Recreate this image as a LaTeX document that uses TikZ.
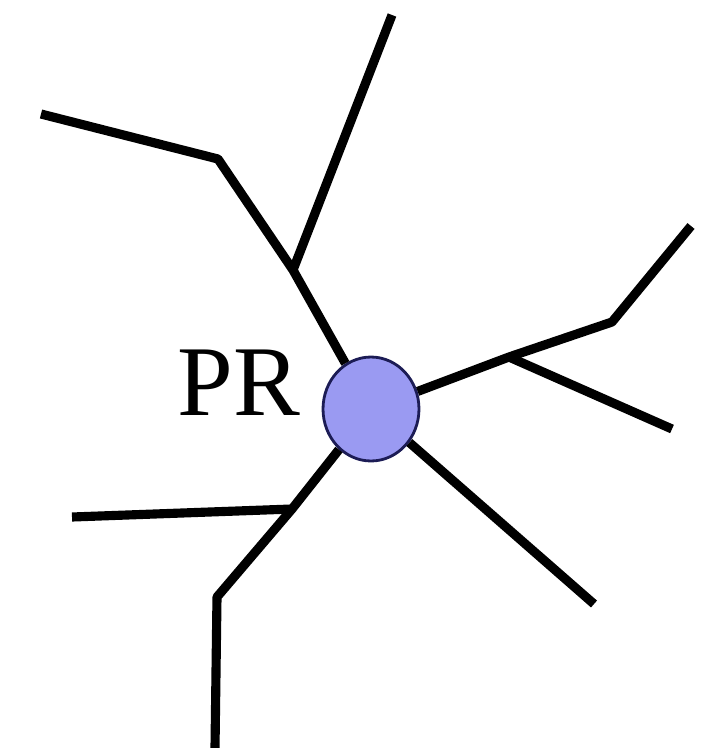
\documentclass[tikz,border=0pt]{standalone}
\usepackage{fontspec}
\setmainfont{Liberation Serif}
\usetikzlibrary{shapes.geometric}
\definecolor{somafill}{HTML}{9A9AF2}
\definecolor{somaline}{HTML}{1C1C55}
\tikzset{
  soma/.style={ellipse, draw=somaline, fill=somafill, line width=1.6pt, minimum width=1.92cm, minimum height=2.08cm, inner sep=0pt},
  neurite/.style={line width=5.2pt, line join=round},
}

\begin{document}
\begin{tikzpicture}[x=0.02cm, y=-0.02cm]
\useasboundingbox (0,0) rectangle (720,748);
\node[soma] (pr) at (371,409) {};
\node[font=\fontsize{57}{60}\selectfont, anchor=base, inner sep=0pt] (lbl) at (239,415) {PR};
% upper left tree
\coordinate (ul) at (293,270);
\coordinate (ulbend) at (218,159);
\coordinate (ulend) at (41,114);
\coordinate (uptop) at (392,15);
\draw[neurite] (pr) -- (ul) -- (ulbend) -- (ulend);
\draw[neurite] (ul) -- (uptop);
% right tree
\coordinate (rt) at (509,357);
\coordinate (rtbend) at (612,322);
\coordinate (rtend) at (691,226);
\coordinate (rtlow) at (672,429);
\draw[neurite] (pr) -- (rt) -- (rtbend) -- (rtend);
\draw[neurite] (rt) -- (rtlow);
% lower right
\coordinate (lrend) at (594,604);
\draw[neurite] (pr) -- (lrend);
% lower left tree
\coordinate (ll) at (292,509);
\coordinate (llend) at (72,517);
\coordinate (llbend) at (217,597);
\coordinate (llbot) at (215,748);
\draw[neurite] (pr) -- (ll) -- (llend);
\draw[neurite] (ll) -- (llbend) -- (llbot);
\end{tikzpicture}
\end{document}
